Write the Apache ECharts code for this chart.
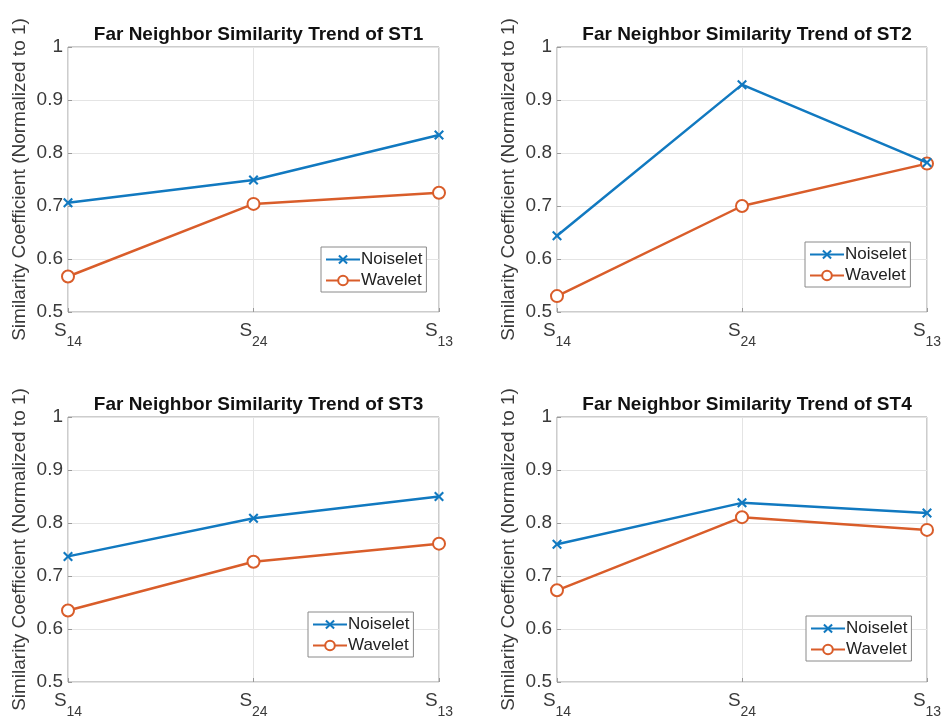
<!DOCTYPE html>
<html><head><meta charset="utf-8">
<script src="https://cdn.jsdelivr.net/npm/echarts@6/dist/echarts.min.js"></script>
<style>html,body{margin:0;padding:0;background:#fff}#c{width:945px;height:723px}</style>
</head><body><div id="c"></div>
<script>
const categories = ['S14', 'S24', 'S13'];
const seriesNames = ['Noiselet', 'Wavelet'];
const titles = ['Far Neighbor Similarity Trend of ST1', 'Far Neighbor Similarity Trend of ST2',
                'Far Neighbor Similarity Trend of ST3', 'Far Neighbor Similarity Trend of ST4'];
const noiselet1 = [0.706, 0.749, 0.834];
const wavelet1  = [0.567, 0.704, 0.725];
const noiselet2 = [0.644, 0.929, 0.782];
const wavelet2  = [0.530, 0.700, 0.780];
const noiselet3 = [0.737, 0.809, 0.850];
const wavelet3  = [0.635, 0.727, 0.761];
const noiselet4 = [0.760, 0.838, 0.819];
const wavelet4  = [0.673, 0.811, 0.787];
const yTicks = [0.5, 0.6, 0.7, 0.8, 0.9, 1];

const noiseData = [noiselet1, noiselet2, noiselet3, noiselet4];
const waveData = [wavelet1, wavelet2, wavelet3, wavelet4];

const FONT = '"Liberation Sans", Arial, Helvetica, sans-serif';
const BLUE = '#1179C0', ORANGE = '#D95D2A';
const XPATH = 'path://M0,3 L3,0 L10,7 L17,0 L20,3 L13,10 L20,17 L17,20 L10,13 L3,20 L0,17 L7,10 Z';

const grids = [
  {left: 68, top: 47, width: 371, height: 265},
  {left: 557, top: 47, width: 370, height: 265},
  {left: 68, top: 417, width: 371, height: 265},
  {left: 557, top: 417, width: 370, height: 265}
];
const legendPos = [
  {left: 321, top: 247}, {left: 805, top: 242}, {left: 308, top: 612}, {left: 806, top: 616}
];

const option = {
  animation: false,
  backgroundColor: '#fff',
  title: grids.map((g, i) => ({
    text: titles[i],
    left: g.left + g.width / 2, top: g.top - 27, textAlign: 'center',
    textStyle: {fontFamily: FONT, fontWeight: 'bold', fontSize: 19, color: '#111'}
  })),
  grid: grids.map(g => Object.assign({show: true, borderColor: '#9a9a9a', borderWidth: 1, containLabel: false}, g)),
  legend: legendPos.map(p => ({
    data: seriesNames, orient: 'vertical', left: p.left, top: p.top,
    itemWidth: 34, itemHeight: 12, itemGap: 4,
    padding: [4, 4, 3, 4],
    borderColor: '#8a8a8a', borderWidth: 1, backgroundColor: '#fff',
    textStyle: {fontFamily: FONT, fontSize: 17, color: '#222', padding: [0, 0, 0, -4]},
    selectedMode: false
  })),
  xAxis: grids.map((g, i) => ({
    type: 'category', gridIndex: i, data: categories, boundaryGap: false,
    axisLine: {show: false},
    axisTick: {show: true, inside: true, length: 4, lineStyle: {color: '#9a9a9a'}},
    splitLine: {show: true, lineStyle: {color: '#e4e4e4', width: 1}},
    axisLabel: {
      margin: 9,
      formatter: v => '{s|' + v.charAt(0) + '}{sub|' + v.slice(1) + '}',
      rich: {
        s: {fontFamily: FONT, fontSize: 19, color: '#3a3a3a', verticalAlign: 'top'},
        sub: {fontFamily: FONT, fontSize: 14, color: '#3a3a3a', verticalAlign: 'bottom', padding: [14, 0, 0, 0]}
      }
    }
  })),
  yAxis: grids.map((g, i) => ({
    type: 'value', gridIndex: i, min: yTicks[0], max: yTicks[yTicks.length - 1], interval: 0.1,
    name: 'Similarity Coefficient (Normalized to 1)', nameLocation: 'middle', nameGap: 39,
    nameTextStyle: {fontFamily: FONT, fontSize: 19, color: '#3a3a3a'},
    axisLine: {show: false},
    axisTick: {show: true, inside: true, length: 4, lineStyle: {color: '#9a9a9a'}},
    splitLine: {show: true, lineStyle: {color: '#e4e4e4', width: 1}},
    axisLabel: {fontFamily: FONT, fontSize: 19, color: '#3a3a3a', margin: 5,
      formatter: v => String(Math.round(v * 10) / 10)}
  })),
  series: []
};
for (let i = 0; i < 4; i++) {
  option.series.push({
    name: seriesNames[0], type: 'line', xAxisIndex: i, yAxisIndex: i, data: noiseData[i],
    symbol: XPATH, symbolSize: 10, symbolKeepAspect: true,
    lineStyle: {color: BLUE, width: 2.5}, itemStyle: {color: BLUE}, z: 3
  });
  option.series.push({
    name: seriesNames[1], type: 'line', xAxisIndex: i, yAxisIndex: i, data: waveData[i],
    symbol: 'emptyCircle', symbolSize: 12,
    lineStyle: {color: ORANGE, width: 2.5}, itemStyle: {color: ORANGE, borderWidth: 2}, z: 2
  });
}
const chart = echarts.init(document.getElementById('c'), null, {renderer: 'canvas'});
chart.setOption(option);
</script></body></html>
